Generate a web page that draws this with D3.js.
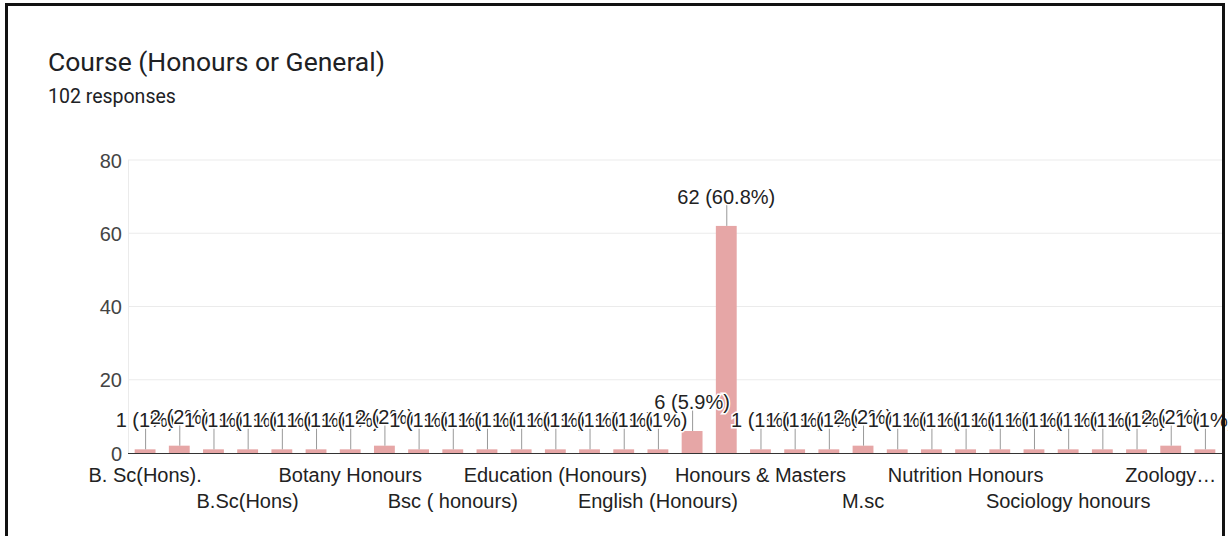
<!DOCTYPE html>
<html>
<head>
<meta charset="utf-8">
<script src="https://cdn.jsdelivr.net/npm/d3@7"></script>
<style>
  body { margin: 0; background: #fff; }
  svg { display: block; }
</style>
</head>
<body>
<div id="chart"></div>
<script>
// Course names (alphabetical, as the form lists them)
const courses = [
  "B. Sc(Hons).", "B.A Honours", "B.Sc (Honours)", "B.Sc(Hons)", "BA Honours",
  "BSc Honours", "Botany Honours", "Botany honours", "Bsc", "Bsc ( honours)",
  "Chemistry Honours", "Computer Science", "Education (Honours)", "Education Honours",
  "English", "English (Honours)", "General", "Honours", "Honours & Masters",
  "Honours (Zoology)", "M.A", "M.sc", "MSc", "Mathematics Honours",
  "Nutrition Honours", "Physics Honours", "Physiology Honours", "Sociology honours",
  "Statistics Honours", "Zoology", "Zoology (Honours)", "Zoology honours"
];
const counts = [
  1, 2, 1, 1, 1, 1, 1, 2, 1, 1,
  1, 1, 1, 1, 1, 1, 6, 62, 1, 1,
  1, 2, 1, 1, 1, 1, 1, 1, 1, 1,
  2, 1
];
const yTicks = [0, 20, 40, 60, 80];
const totalResponses = 102;

function createChart() {
  const width = 1228,
    height = 536;
  const plot = { left: 128, right: 1222, top: 160, bottom: 453 };
  const font = "Liberation Sans, Arial, sans-serif";

  const svg = d3
    .select("#chart")
    .append("svg")
    .attr("width", width)
    .attr("height", height);

  const data = courses.map((name, i) => ({ name, count: counts[i], i }));

  const xScale = d3
    .scaleBand()
    .domain(data.map((d) => d.name))
    .range([plot.left, plot.right])
    .paddingInner(0.39)
    .paddingOuter(0.195);

  const yScale = d3
    .scaleLinear()
    .domain([0, 80])
    .range([plot.bottom, plot.top]);

  // Title
  svg.append("text")
    .attr("x", 48).attr("y", 71)
    .attr("font-family", "Roboto, sans-serif")
    .attr("font-size", 26.5)
    .attr("fill", "#202124")
    .text("Course (Honours or General)");

  svg.append("text")
    .attr("x", 48).attr("y", 103)
    .attr("font-family", "Roboto, sans-serif")
    .attr("font-size", 19.5)
    .attr("fill", "#202124")
    .text(totalResponses + " responses");

  // Gridlines
  svg.append("g")
    .selectAll("line")
    .data(yTicks.slice(1))
    .enter()
    .append("line")
    .attr("x1", plot.left).attr("x2", plot.right)
    .attr("y1", (d) => yScale(d)).attr("y2", (d) => yScale(d))
    .attr("stroke", "#ebebeb");

  svg.append("line")
    .attr("x1", plot.left + 0.5).attr("x2", plot.left + 0.5)
    .attr("y1", plot.top).attr("y2", plot.bottom)
    .attr("stroke", "#ebebeb");

  // Y axis labels
  const yAxis = svg.append("g")
    .attr("transform", `translate(${plot.left - 6},0)`)
    .call(d3.axisLeft(yScale).tickValues(yTicks).tickSize(0).tickPadding(0));
  yAxis.select(".domain").remove();
  yAxis.selectAll("text")
    .attr("font-family", font)
    .attr("font-size", 20)
    .attr("fill", "#444")
    .attr("dy", "0.36em");

  // Bars
  svg.selectAll(".bar")
    .data(data)
    .enter()
    .append("rect")
    .attr("class", "bar")
    .attr("x", (d) => xScale(d.name))
    .attr("y", (d) => yScale(d.count))
    .attr("width", xScale.bandwidth())
    .attr("height", (d) => yScale(0) - yScale(d.count))
    .attr("fill", "#e6a6a6");

  // Baseline
  svg.append("line")
    .attr("x1", plot.left).attr("x2", plot.right)
    .attr("y1", plot.bottom + 0.5).attr("y2", plot.bottom + 0.5)
    .attr("stroke", "#333");

  // X axis labels: every third one, in two staggered rows
  const xAxis = svg.append("g")
    .attr("transform", `translate(0,${plot.bottom})`)
    .call(d3.axisBottom(xScale).tickSize(0).tickPadding(0)
      .tickValues(courses.filter((c, i) => i % 3 === 0)));
  xAxis.select(".domain").remove();
  xAxis.selectAll("text")
    .attr("font-family", font)
    .attr("font-size", 20)
    .attr("fill", "#222")
    .attr("dy", null)
    .attr("y", (d) => (courses.indexOf(d) / 3) % 2 === 0 ? 29 : 55)
    .each(function (d) {
      // truncate labels that run past the right edge
      const cx = xScale(d) + xScale.bandwidth() / 2;
      const el = d3.select(this);
      let s = d;
      while (cx + this.getComputedTextLength() / 2 > 1218 && s.length > 1) {
        s = s.slice(0, -1);
        el.text(s.trimEnd() + "…");
      }
    });

  // Value annotations with leader lines and white halo
  const ann = svg.append("g");
  data.forEach((d) => {
    const cx = xScale(d.name) + xScale.bandwidth() / 2;
    const top = yScale(d.count);
    const pct = (d.count / totalResponses) * 100;
    const pctText = pct >= 2.5 ? pct.toFixed(1) : Math.round(pct).toString();
    ann.append("line")
      .attr("x1", cx + 0.5).attr("x2", cx + 0.5)
      .attr("y1", top - 21).attr("y2", top)
      .attr("stroke", "#999");
    ann.append("text")
      .attr("x", cx).attr("y", top - 22)
      .attr("text-anchor", "middle")
      .attr("font-family", font)
      .attr("font-size", 20)
      .attr("fill", "#222")
      .attr("stroke", "#fff")
      .attr("stroke-width", 3)
      .attr("paint-order", "stroke")
      .text(`${d.count} (${pctText}%)`);
  });

  // Frame
  svg.append("path")
    .attr("d", `M6.5,536 V4.5 H1223.5 V536`)
    .attr("fill", "none")
    .attr("stroke", "#111")
    .attr("stroke-width", 3);
}

createChart();
</script>
</body>
</html>
